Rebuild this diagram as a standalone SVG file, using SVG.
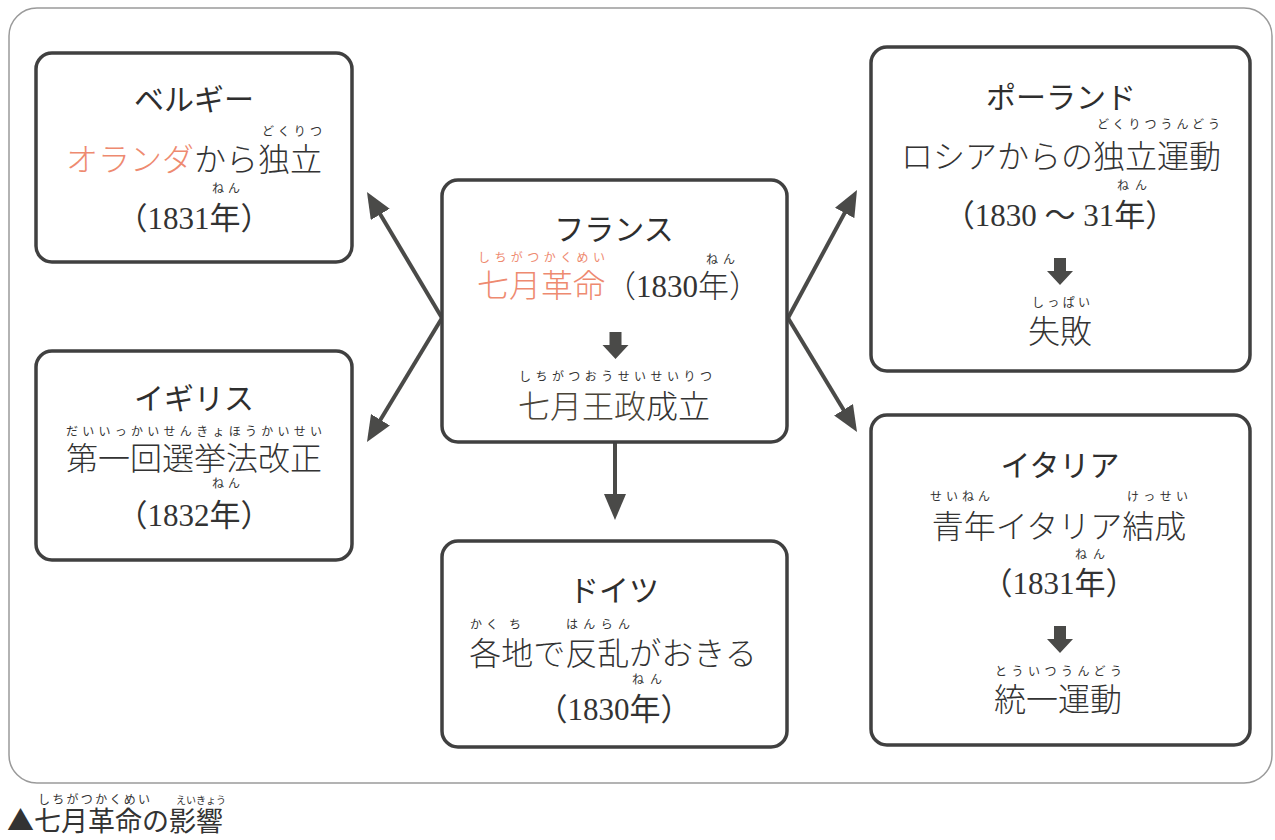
<svg xmlns="http://www.w3.org/2000/svg" width="1275" height="840" viewBox="0 0 1275 840">
<defs>
<style>
.frame{fill:none;stroke:#9a9a9a;stroke-width:1.5}
.box{fill:#fff;stroke:#404040;stroke-width:3.5}
.h{font-family:"Noto Sans CJK JP",sans-serif;font-size:30px;fill:#2e2e2e;text-anchor:middle}
.t{font-family:"Noto Sans CJK JP",sans-serif;font-size:32px;fill:#333;font-weight:300}
.m{text-anchor:middle}
.y{font-family:"Liberation Serif","Noto Sans CJK JP",serif;font-size:31px;fill:#333;text-anchor:middle}
.r{font-family:"Noto Sans CJK JP",sans-serif;font-size:12px;fill:#333}
.ro{fill:#ee8a70}
.o{fill:#ee8a70}
.conn{stroke:#4a4a48;stroke-width:4;fill:none;marker-end:url(#ah)}
.blk{fill:#4a4a48}
</style>
<marker id="ah" markerUnits="userSpaceOnUse" markerWidth="26" markerHeight="22" viewBox="0 0 26 22" refX="14" refY="11" orient="auto">
<path d="M0,0 L26,11 L0,22 z" fill="#4a4a48"/>
</marker>
<path id="blkarrow" d="M-6,0 H6 V13 H13 L0,27 L-13,13 H-6 z"/>
</defs>
<rect width="1275" height="840" fill="#fff"/>
<rect class="frame" x="9" y="8" width="1263" height="775" rx="28"/>

<g id="connectors">
<line class="conn" x1="442" y1="318" x2="373.1" y2="202.3"/>
<line class="conn" x1="442" y1="318" x2="373.2" y2="431.7"/>
<line class="conn" x1="788" y1="318" x2="851.3" y2="200.6"/>
<line class="conn" x1="788" y1="318" x2="850.8" y2="421.7"/>
<line class="conn" x1="615" y1="442" x2="615" y2="508"/>
</g>

<g id="belgium">
<rect class="box" x="36" y="53" width="316" height="209" rx="16"/>
<text class="h" x="194" y="110">ベルギー</text>
<text class="r" x="262" y="136" textLength="60" lengthAdjust="spacing">どくりつ</text>
<text class="t m" x="194" y="171"><tspan class="o">オランダ</tspan>から独立</text>
<text class="r" x="212" y="193" textLength="28" lengthAdjust="spacing">ねん</text>
<text class="y" x="194" y="229">（1831年）</text>
</g>

<g id="england">
<rect class="box" x="36" y="351" width="316" height="209" rx="16"/>
<text class="h" x="194" y="409">イギリス</text>
<text class="r" x="66" y="436" textLength="256" lengthAdjust="spacing">だいいっかいせんきょほうかいせい</text>
<text class="t m" x="194" y="470">第一回選挙法改正</text>
<text class="r" x="212" y="488" textLength="28" lengthAdjust="spacing">ねん</text>
<text class="y" x="194" y="526">（1832年）</text>
</g>

<g id="france">
<rect class="box" x="442" y="180" width="345" height="262" rx="16"/>
<text class="h" x="614" y="240">フランス</text>
<text class="r ro" x="478" y="262" textLength="127" lengthAdjust="spacing">しちがつかくめい</text>
<text class="r" x="706" y="264" textLength="29" lengthAdjust="spacing">ねん</text>
<text class="t" x="477" y="297"><tspan class="o">七月革命</tspan><tspan style="font-family:'Liberation Serif','Noto Sans CJK JP',serif;font-size:31px">（1830年）</tspan></text>
<use href="#blkarrow" class="blk" x="615.5" y="332"/>
<text class="r" x="519" y="381" textLength="193" lengthAdjust="spacing" fill="#4a4438">しちがつおうせいせいりつ</text>
<text class="t" x="518" y="418"><tspan fill="#4a4438">七月王政</tspan>成立</text>
</g>

<g id="germany">
<rect class="box" x="442" y="541" width="345" height="206" rx="16"/>
<text class="h" x="614" y="601">ドイツ</text>
<text class="r" x="470" y="629" textLength="28" lengthAdjust="spacing">かく</text>
<text class="r" x="509" y="629">ち</text>
<text class="r" x="566" y="629" textLength="64" lengthAdjust="spacing">はんらん</text>
<text class="t m" x="613" y="665">各地で反乱がおきる</text>
<text class="r" x="632" y="684" textLength="30" lengthAdjust="spacing">ねん</text>
<text class="y" x="614" y="720">（1830年）</text>
</g>

<g id="poland">
<rect class="box" x="871" y="47" width="379" height="324" rx="16"/>
<text class="h" x="1061" y="108">ポーランド</text>
<text class="r" x="1097" y="129" textLength="123" lengthAdjust="spacing">どくりつうんどう</text>
<text class="t m" x="1061" y="168">ロシアからの独立運動</text>
<text class="r" x="1117" y="190" textLength="30" lengthAdjust="spacing">ねん</text>
<text class="y" x="1060" y="226">（1830 ～ 31年）</text>
<use href="#blkarrow" class="blk" x="1060" y="258"/>
<text class="r" x="1032" y="307" textLength="58" lengthAdjust="spacing">しっぱい</text>
<text class="t m" x="1060" y="343">失敗</text>
</g>

<g id="italy">
<rect class="box" x="871" y="415" width="379" height="330" rx="16"/>
<text class="h" x="1060" y="476">イタリア</text>
<text class="r" x="930" y="501" textLength="60" lengthAdjust="spacing">せいねん</text>
<text class="r" x="1127" y="501" textLength="61" lengthAdjust="spacing">けっせい</text>
<text class="t m" x="1059" y="538">青年イタリア結成</text>
<text class="r" x="1075" y="559" textLength="30" lengthAdjust="spacing">ねん</text>
<text class="y" x="1059" y="594">（1831年）</text>
<use href="#blkarrow" class="blk" x="1060" y="626"/>
<text class="r" x="995" y="676" textLength="127" lengthAdjust="spacing">とういつうんどう</text>
<text class="t m" x="1058" y="711">統一運動</text>
</g>

<g id="caption">
<text class="r" x="38" y="804" textLength="112" lengthAdjust="spacing">しちがつかくめい</text>
<text class="r" x="201" y="804" style="font-size:10px;text-anchor:middle">えいきょう</text>
<text x="7" y="831" style="font-family:'Noto Sans CJK JP',sans-serif;font-size:27px;fill:#333">▲七月革命の影響</text>
</g>
</svg>
